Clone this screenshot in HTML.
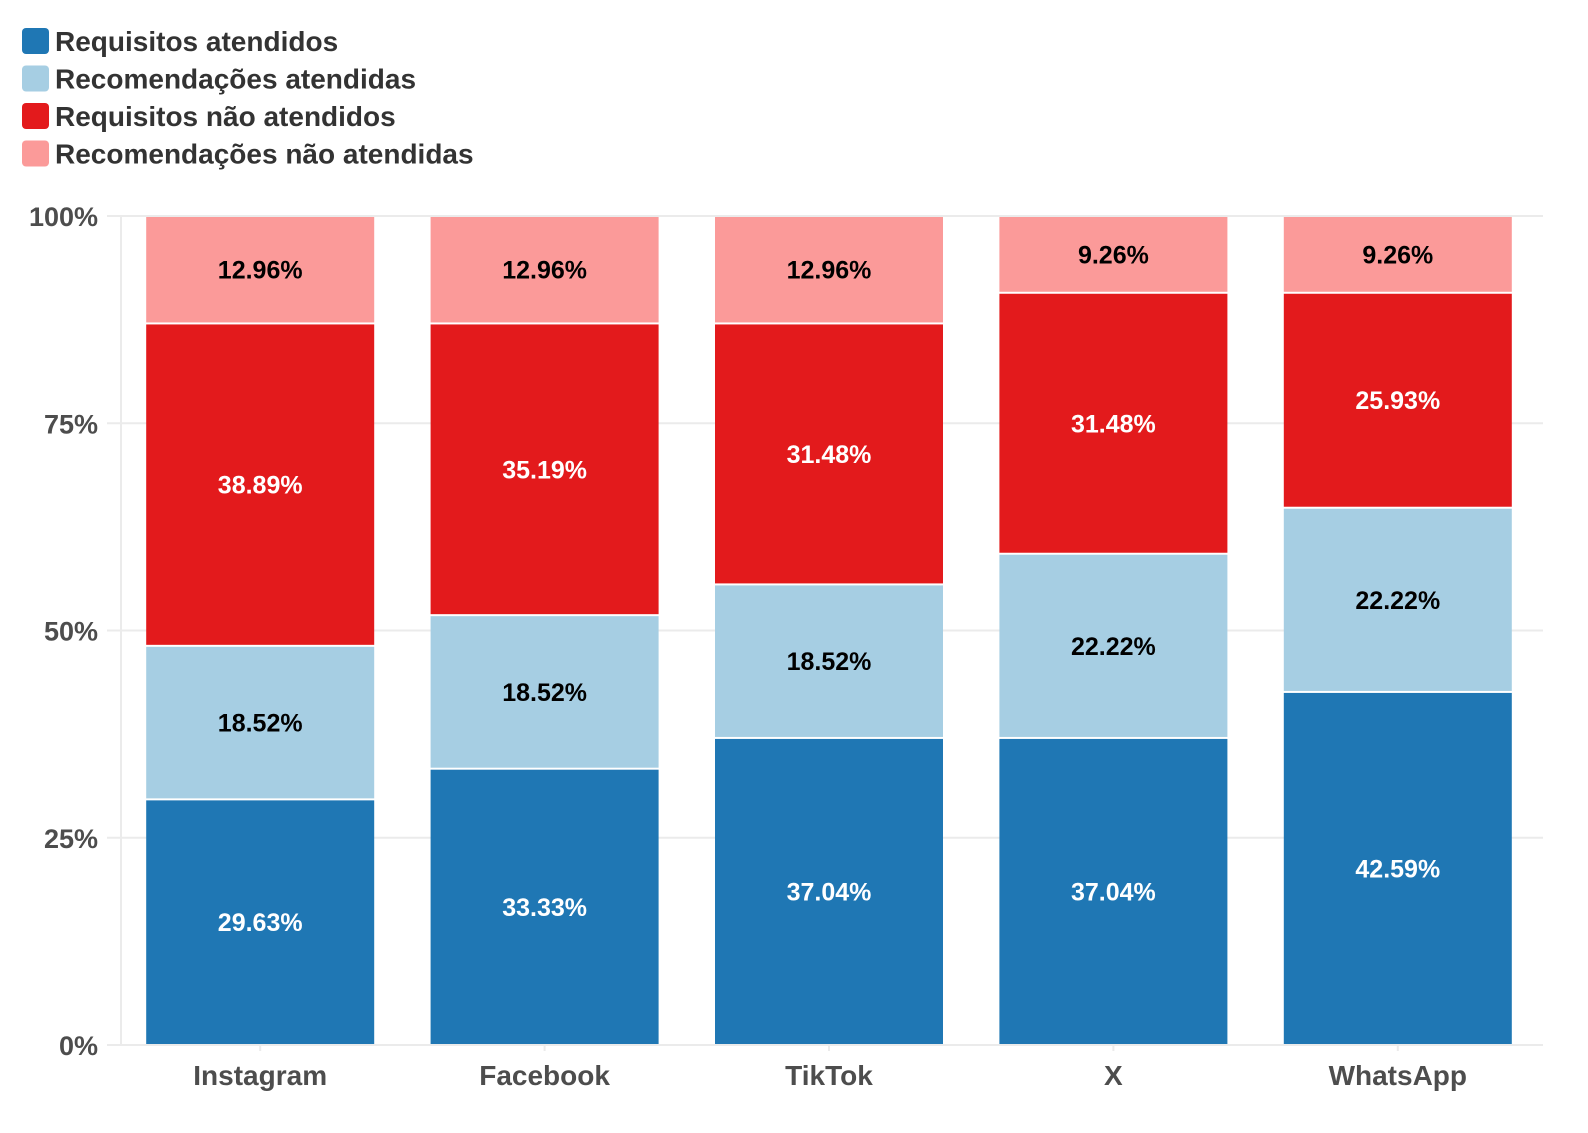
<!DOCTYPE html>
<html><head><meta charset="utf-8"><style>
body{margin:0;background:#fff;}
svg text{font-family:"Liberation Sans",sans-serif;font-weight:bold;}
</style></head><body>
<svg id="chart" width="1588" height="1128" xmlns="http://www.w3.org/2000/svg"></svg>
<script>
const categories=["Instagram","Facebook","TikTok","X","WhatsApp"];
const seriesNames=["Requisitos atendidos","Recomendações atendidas","Requisitos não atendidos","Recomendações não atendidas"];
const reqAtendidos=[29.63,33.33,37.04,37.04,42.59];
const recAtendidas=[18.52,18.52,18.52,22.22,22.22];
const reqNao=[38.89,35.19,31.48,31.48,25.93];
const recNao=[12.96,12.96,12.96,9.26,9.26];
const yTicks=[0,25,50,75,100];
const colors=["#1f77b4","#a6cee3","#e31a1c","#fb9a99"];
const labelColors=["#fff","#000","#fff","#000"];
const series=[reqAtendidos,recAtendidas,reqNao,recNao];
const NS="http://www.w3.org/2000/svg";
const svg=document.getElementById("chart");
const x0=121,x1=1543,yBottom=1045,yTop=216;
const band=(x1-x0)/categories.length, barW=228;
const y=v=>yBottom-(v/100)*(yBottom-yTop);
const xc=i=>x0+band*(i+0.5)-3;
function mk(tag,attrs,parent){const e=document.createElementNS(NS,tag);for(const k in attrs)e.setAttribute(k,attrs[k]);(parent||svg).appendChild(e);return e;}
yTicks.forEach(t=>{
  const g=mk("line",{x1:107,x2:1543,y1:y(t),y2:y(t),stroke:"#ebebeb","stroke-width":2});
  
  
  const tx=mk("text",{x:98,y:y(t)+10,"text-anchor":"end","font-size":27,fill:"#4d4d4d"});
  tx.textContent=t+"%";
  
  
});
const ax=mk("line",{x1:x0,x2:x0,y1:yTop,y2:yBottom,stroke:"#ebebeb","stroke-width":2});


categories.forEach((c,i)=>{
  let cum=0;
  series.forEach((s,j)=>{
    const v=s[i];
    const top=y(cum+v),bot=y(cum);
    const r=mk("rect",{x:xc(i)-barW/2,y:top+1,width:barW,height:Math.max(0,bot-top-2),fill:colors[j]});
    
    
    const t=mk("text",{x:xc(i),y:(top+bot)/2+9,"text-anchor":"middle","font-size":25,fill:labelColors[j]});
    t.textContent=v.toFixed(2)+"%";
    
    
    cum+=v;
  });
  const tk=mk("line",{x1:xc(i),x2:xc(i),y1:yBottom,y2:yBottom+6,stroke:"#ebebeb","stroke-width":2});
  
  
  const lt=mk("text",{x:xc(i),y:1085,"text-anchor":"middle","font-size":28,fill:"#4d4d4d"});
  lt.textContent=c;
  
  
});
seriesNames.forEach((n,j)=>{
  const yy=28+j*37.5;
  const g=mk("g",{});
  
  
  mk("rect",{x:22,y:yy,width:27,height:26,rx:4,fill:colors[j]},g);
  const t=mk("text",{x:55,y:yy+23,"font-size":28,fill:"#333"},g);
  t.textContent=n;
});
</script>
</body></html>
